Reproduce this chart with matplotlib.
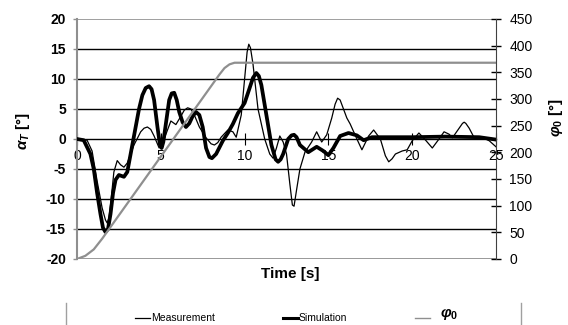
import matplotlib
matplotlib.use("Agg")
import matplotlib.pyplot as plt
from matplotlib.lines import Line2D

plt.rcParams['font.family'] = ['Liberation Sans', 'DejaVu Sans']
plt.rcParams['mathtext.fontset'] = 'custom'
plt.rcParams['mathtext.it'] = 'Liberation Sans:italic:bold'
plt.rcParams['mathtext.rm'] = 'Liberation Sans:bold'
plt.rcParams['mathtext.bf'] = 'Liberation Sans:bold'

# measured yaw angle alpha_T [deg]
t_meas = [0.0, 0.6, 0.9, 1.2, 1.5, 1.7, 1.8, 1.9, 2.0, 2.2, 2.4, 2.6, 2.8,
          3.0, 3.4, 3.8, 4.0, 4.2, 4.4, 4.6, 4.9, 5.2, 5.6, 5.9, 6.2, 6.4,
          6.6, 6.8, 7.0, 7.3, 7.7, 8.0, 8.2, 8.4, 8.6, 9.0, 9.3, 9.5, 9.8,
          10.0, 10.15, 10.25, 10.35, 10.5, 10.8, 11.2, 11.5, 11.7, 11.9, 12.1,
          12.3, 12.5, 12.7, 12.85, 12.95, 13.1, 13.3, 13.6, 14.0, 14.3, 14.6,
          14.9, 15.2, 15.4, 15.55, 15.7, 15.9, 16.1, 16.3, 16.7, 17.0, 17.4,
          17.7, 18.1, 18.4, 18.6, 18.8, 19.0, 19.4, 19.7, 20.0, 20.4, 20.8,
          21.2, 21.6, 21.9, 22.2, 22.4, 22.8, 23.0, 23.1, 23.2, 23.4, 23.7,
          24.1, 24.6, 25.0]
a_meas = [0.0, -0.2, -2.0, -7.0, -11.5, -13.5, -14.0, -13.2, -11.0, -5.5,
          -3.6, -4.3, -4.7, -4.0, -1.0, 1.2, 1.8, 2.0, 1.6, 0.5, -1.5, 0.0,
          3.0, 2.4, 3.8, 4.8, 5.2, 5.0, 4.0, 2.0, 0.2, -0.8, -1.0, -0.6, 0.3,
          1.5, 1.2, 0.3, 4.0, 10.0, 14.5, 15.8, 15.2, 12.5, 5.0, 0.0, -2.5,
          -3.2, -1.5, 0.5, -0.5, -2.5, -7.5, -11.0, -11.2, -8.5, -5.0, -2.2,
          -0.5, 1.2, -0.5, 0.7, 3.5, 5.8, 6.8, 6.5, 5.0, 3.5, 2.5, 0.0, -1.8,
          0.5, 1.5, 0.0, -2.8, -3.8, -3.3, -2.5, -2.0, -1.8, -0.3, 1.0, -0.2,
          -1.5, 0.0, 1.2, 0.8, 0.2, 1.8, 2.6, 2.8, 2.6, 1.8, 0.2, 0.4, -0.3,
          -1.3]

# simulated yaw angle alpha_T [deg]
t_sim = [0.0, 0.4, 0.8, 1.0, 1.2, 1.4, 1.55, 1.7, 1.85, 2.0, 2.15, 2.3, 2.5,
         2.8, 3.0, 3.3, 3.7, 3.9, 4.1, 4.3, 4.45, 4.6, 4.8, 4.95, 5.05, 5.15,
         5.3, 5.5, 5.65, 5.8, 5.95, 6.1, 6.3, 6.5, 6.7, 6.9, 7.1, 7.3, 7.5,
         7.7, 7.9, 8.05, 8.3, 8.7, 9.0, 9.3, 9.6, 10.0, 10.3, 10.5, 10.7,
         10.85, 11.0, 11.3, 11.6, 11.85, 12.0, 12.15, 12.3, 12.6, 12.8, 12.95,
         13.1, 13.3, 13.8, 14.3, 14.7, 15.0, 15.3, 15.7, 16.2, 16.7, 17.1,
         17.6, 18.5, 20.0, 22.0, 24.0, 25.0]
a_sim = [0.0, -0.2, -2.5, -5.0, -9.0, -12.5, -14.8, -15.5, -15.0, -12.5, -9.0,
         -6.8, -6.0, -6.3, -5.5, -1.0, 5.0, 7.3, 8.5, 8.8, 8.3, 6.5, 2.0,
         -1.0, -1.5, -0.5, 2.5, 6.5, 7.6, 7.7, 6.5, 4.5, 2.8, 2.0, 2.6, 3.8,
         4.5, 4.0, 2.0, -1.5, -3.0, -3.2, -2.5, -0.3, 1.0, 2.5, 4.3, 6.0, 8.5,
         10.2, 11.0, 10.5, 9.0, 4.0, -1.0, -3.4, -3.8, -3.4, -2.5, 0.0, 0.6,
         0.7, 0.3, -1.0, -2.2, -1.3, -2.0, -2.7, -1.5, 0.5, 1.0, 0.6, -0.2,
         0.3, 0.3, 0.3, 0.4, 0.3, -0.1]

# steering angle phi_0 [deg]
t_phi = [0.0, 0.5, 1.0, 1.5, 8.5, 8.8, 9.1, 9.4, 25.0]
phi = [0.0, 6.0, 18.0, 38.0, 346.0, 358.0, 365.0, 368.0, 368.0]

x_ticks = [0, 5, 10, 15, 20, 25]
a_ticks = [-20, -15, -10, -5, 0, 5, 10, 15, 20]
phi_ticks = [0, 50, 100, 150, 200, 250, 300, 350, 400, 450]

grey = '#8f8f8f'

fig = plt.figure(figsize=(5.68, 3.25), dpi=100)
ax = fig.add_axes([77 / 568, 66 / 325, 419 / 568, 240 / 325])

for v in [-15, -10, -5, 5, 10, 15]:
    ax.axhline(v, color='black', lw=1.0, zorder=1)
ax.axhline(20, color=grey, lw=1.2, zorder=1)
ax.axhline(-20, color=grey, lw=2.0, zorder=1)

ax.plot(t_meas, a_meas, color='black', lw=0.9, zorder=3)
ax.plot(t_sim, a_sim, color='black', lw=2.7, zorder=4)

ax.set_xlim(0, 25)
ax.set_ylim(-20, 20)
ax.set_yticks(a_ticks)
ax.set_yticklabels([str(v) for v in a_ticks], fontweight='bold', fontsize=10)
ax.set_xticks(x_ticks)
ax.set_xticklabels([str(v) for v in x_ticks], fontsize=10)

ax.spines['top'].set_visible(False)
ax.spines['right'].set_visible(False)
ax.spines['left'].set_color(grey)
ax.spines['left'].set_linewidth(1.5)
ax.spines['bottom'].set_position(('data', 0))
ax.spines['bottom'].set_color('black')
ax.spines['bottom'].set_linewidth(1.0)
ax.tick_params(axis='y', length=3, color=grey, width=1, pad=5)
ax.tick_params(axis='x', direction='inout', length=8, width=0.8, pad=3)

ax2 = ax.twinx()
ax2.plot(t_phi, phi, color=grey, lw=1.6)
ax2.set_ylim(0, 450)
ax2.set_yticks(phi_ticks)
ax2.set_yticklabels([str(v) for v in phi_ticks], fontsize=10)
for s in ['left', 'top', 'bottom']:
    ax2.spines[s].set_visible(False)
ax2.spines['right'].set_color('#404040')
ax2.tick_params(axis='y', direction='inout', length=7, width=1, pad=6)

fig.text(23 / 568, 1 - 131 / 325, r'$\alpha_T$ [°]', rotation=90,
         ha='center', va='center', fontsize=11, fontweight='bold')
fig.text(556 / 568, 1 - 118 / 325, r'$\varphi_0$ [°]', rotation=90,
         ha='center', va='center', fontsize=11, fontweight='bold')
fig.text(290 / 568, 1 - 274 / 325, 'Time [s]', ha='center', va='center',
         fontsize=11, fontweight='bold')

# legend strip under the chart, only its side edges show
for xe in [66, 521]:
    fig.add_artist(Line2D([xe / 568, xe / 568], [0, 1 - 303 / 325],
                          color='#a0a0a0', lw=1, transform=fig.transFigure))
ly = 1 - 318 / 325
fig.add_artist(Line2D([135 / 568, 150 / 568], [ly, ly], color='black',
                      lw=0.9, transform=fig.transFigure))
fig.text(151 / 568, ly, 'Measurement', fontsize=7.5, va='center')
fig.add_artist(Line2D([283 / 568, 298 / 568], [ly, ly], color='black',
                      lw=2.2, transform=fig.transFigure))
fig.text(299 / 568, ly, 'Simulation', fontsize=7.5, va='center')
fig.add_artist(Line2D([415 / 568, 430 / 568], [ly, ly], color=grey,
                      lw=1.0, transform=fig.transFigure))
fig.text(440 / 568, 1 - 314 / 325, r'$\varphi_0$', fontsize=11, va='center')

fig.savefig('out.png', dpi=100)
